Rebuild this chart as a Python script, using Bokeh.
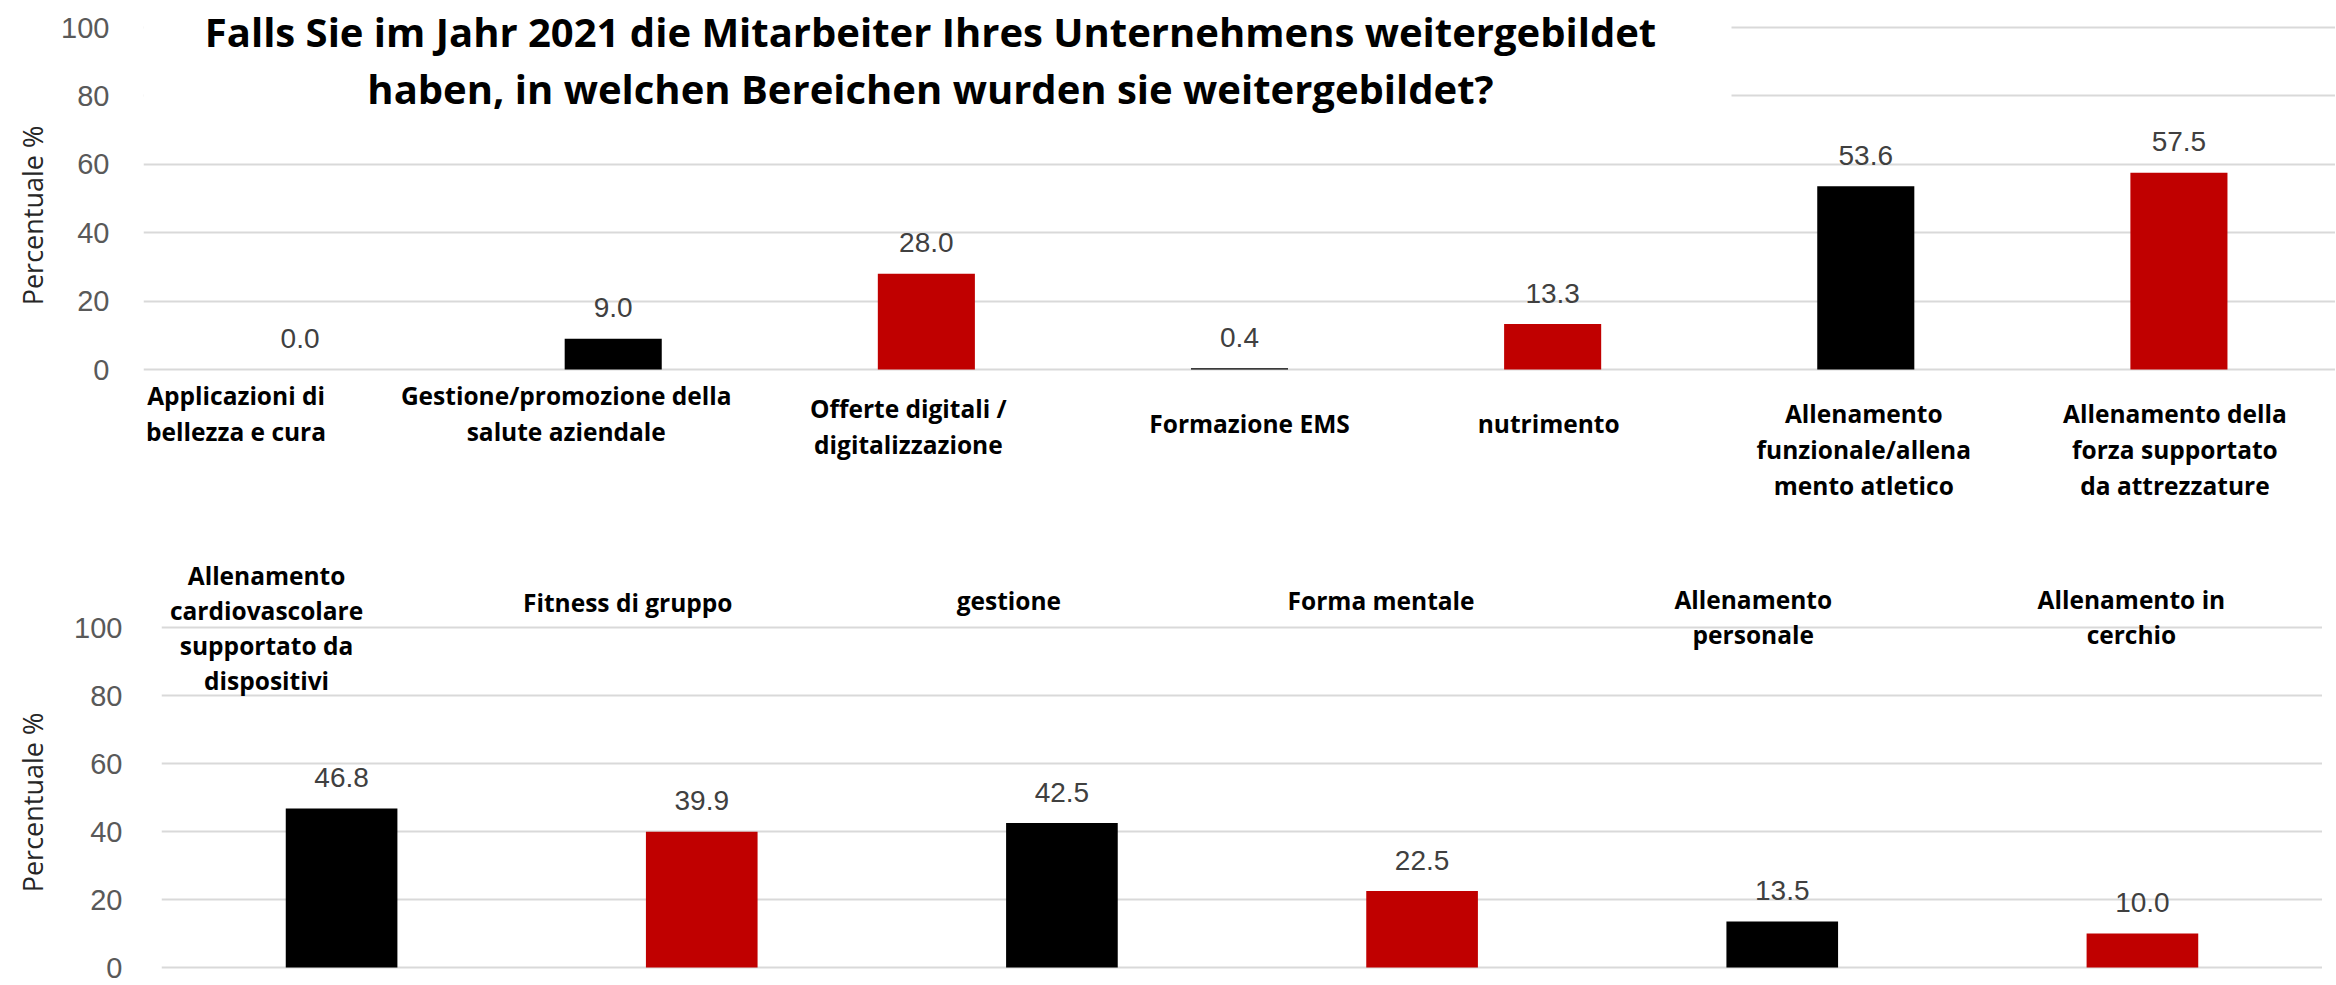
from bokeh.plotting import figure
from bokeh.models import FactorRange, Range1d, FixedTicker, ColumnDataSource, BoxAnnotation
from bokeh.layouts import column, row
from bokeh.core.properties import value
from bokeh.embed import file_html
from bokeh.resources import INLINE
import math

# ---------------- data ----------------
title_lines = [
    "Falls Sie im Jahr 2021 die Mitarbeiter Ihres Unternehmens weitergebildet",
    "haben, in welchen Bereichen wurden sie weitergebildet?",
]
y_axis_label = "Percentuale %"
y_ticks = [0, 20, 40, 60, 80, 100]

top_categories = [
    "Applicazioni di bellezza e cura",
    "Gestione/promozione della salute aziendale",
    "Offerte digitali / digitalizzazione",
    "Formazione EMS",
    "nutrimento",
    "Allenamento funzionale/allenamento atletico",
    "Allenamento della forza supportato da attrezzature",
]
top_label_lines = [
    ["Applicazioni di", "bellezza e cura"],
    ["Gestione/promozione della", "salute aziendale"],
    ["Offerte digitali /", "digitalizzazione"],
    ["Formazione EMS"],
    ["nutrimento"],
    ["Allenamento", "funzionale/allena", "mento atletico"],
    ["Allenamento della", "forza supportato", "da attrezzature"],
]
top_values = [0.0, 9.0, 28.0, 0.4, 13.3, 53.6, 57.5]

bottom_categories = [
    "Allenamento cardiovascolare supportato da dispositivi",
    "Fitness di gruppo",
    "gestione",
    "Forma mentale",
    "Allenamento personale",
    "Allenamento in cerchio",
]
bottom_label_lines = [
    ["Allenamento", "cardiovascolare", "supportato da", "dispositivi"],
    ["Fitness di gruppo"],
    ["gestione"],
    ["Forma mentale"],
    ["Allenamento", "personale"],
    ["Allenamento in", "cerchio"],
]
bottom_values = [46.8, 39.9, 42.5, 22.5, 13.5, 10.0]

# ---------------- style / layout ----------------
BLACK = "#000000"
RED = "#C00000"
top_colors = [RED, BLACK, RED, BLACK, RED, BLACK, RED]
bottom_colors = [BLACK, RED, BLACK, RED, BLACK, RED]
GRID = "#D9D9D9"
TICK_COLOR = "#595959"
VALUE_COLOR = "#404040"
LABEL_FONT = "Open Sans"
NUM_FONT = "Liberation Sans"
ORIGIN = 0           # page position of the layout's top-left corner
YLAB_W = 56          # width of the strip holding the rotated y-axis title


def ylabel_strip(fig_top, fig_bottom, center_px, baseline_px=32):
    s = figure(x_range=Range1d(ORIGIN, ORIGIN + YLAB_W),
               y_range=Range1d(fig_bottom, fig_top),
               width=YLAB_W, height=fig_bottom - fig_top,
               min_border=0, output_backend="svg", toolbar_location=None, tools="",
               x_axis_location=None, y_axis_location=None)
    s.outline_line_color = None
    s.grid.visible = False
    s.border_fill_color = "white"
    s.text(x=[baseline_px], y=[center_px], text=[y_axis_label], angle=math.pi / 2,
           text_align="center", text_baseline="alphabetic",
           text_font=value("Open Sans"), text_font_size="27px", text_color="#262626")
    return s


def make_chart(cats, label_lines, vals, colors, fig_top, fig_bottom, fig_right, frame_left,
               y0_px, y100_px, label_dx, label_base, line_gap, tick_standoff,
               bar_width=0.31):
    scale = (y0_px - y100_px) / 100.0
    y_start = (y0_px - fig_bottom) / scale
    y_end = (y0_px - fig_top) / scale
    n = len(cats)
    spacing = (fig_right - frame_left) / n
    fig_left = ORIGIN + YLAB_W

    def ydata(px):
        return (y0_px - px) / scale

    def xsyn(px):
        return (px - frame_left) / spacing

    p = figure(
        x_range=FactorRange(*cats),
        y_range=Range1d(y_start, y_end),
        width=fig_right - fig_left,
        height=fig_bottom - fig_top,
        min_border_left=frame_left - fig_left,
        min_border_right=0, min_border_top=0, min_border_bottom=0,
        output_backend="svg", toolbar_location=None, tools="",
        x_axis_location=None,
    )
    p.outline_line_color = None
    p.background_fill_color = "white"
    p.border_fill_color = "white"
    p.xgrid.visible = False
    p.ygrid.ticker = FixedTicker(ticks=y_ticks)
    p.ygrid.grid_line_color = GRID
    p.ygrid.grid_line_width = 2

    ax = p.yaxis[0]
    ax.ticker = FixedTicker(ticks=y_ticks)
    ax.axis_line_color = None
    ax.major_tick_line_color = None
    ax.minor_tick_line_color = None
    ax.major_label_text_font = NUM_FONT
    ax.major_label_text_font_size = "29px"
    ax.major_label_text_color = TICK_COLOR
    ax.major_label_standoff = tick_standoff

    src = ColumnDataSource(dict(x=cats, top=vals, color=colors,
                                txt=["%.1f" % v for v in vals]))
    p.vbar(x="x", top="top", width=bar_width, fill_color="color", line_color=None,
           source=src)
    p.text(x="x", y="top", text="txt", source=src, y_offset=-31,
           text_align="center", text_baseline="alphabetic",
           text_font=value(NUM_FONT), text_font_size="28px", text_color=VALUE_COLOR)

    # category labels (multi-line, centred)
    lx, ly, lt, ldx = [], [], [], []
    for i, lines in enumerate(label_lines):
        for j, line in enumerate(lines):
            lx.append(cats[i])
            ldx.append(label_dx[i])
            ly.append(ydata(label_base[i] + j * line_gap))
            lt.append(line)
    lsrc = ColumnDataSource(dict(x=lx, y=ly, t=lt, dx=ldx))
    p.text(x="x", y="y", text="t", x_offset="dx", source=lsrc,
           text_align="center", text_baseline="alphabetic",
           text_font=value(LABEL_FONT), text_font_style="bold",
           text_font_size="24.5px", text_color="#000000")
    return p, xsyn, ydata, y_end


# top chart
T_TOP, T_BOT = 0, 530
top, tx, ty, tyend = make_chart(
    top_categories, top_label_lines, top_values, top_colors,
    fig_top=T_TOP, fig_bottom=T_BOT, fig_right=2335, frame_left=143,
    y0_px=369, y100_px=27,
    label_dx=[-64, -47, -18, 10, -4, -2, -4],
    label_base=[395, 395, 408, 423, 423, 413, 413],
    line_gap=36, tick_standoff=28)

# white box behind the title (hides upper gridlines there)
top.add_layout(BoxAnnotation(left=0, right=tx(1731), bottom=ty(130), top=tyend,
                             fill_color="white", fill_alpha=1.0, line_color=None,
                             level="underlay"))
tsrc = ColumnDataSource(dict(x=[tx(930), tx(930)], y=[ty(31), ty(88)], t=title_lines))
top.text(x="x", y="y", text="t", source=tsrc, text_align="center",
         text_baseline="alphabetic", text_font=value(LABEL_FONT),
         text_font_style="bold", text_font_size="40px", text_color="#000000")

# bottom chart
B_TOP, B_BOT = 530, 984
bottom, bx, by, byend = make_chart(
    bottom_categories, bottom_label_lines, bottom_values, bottom_colors,
    fig_top=B_TOP, fig_bottom=B_BOT, fig_right=2322, frame_left=161,
    y0_px=967, y100_px=627,
    label_dx=[-75, -74, -53, -41, -29, -11],
    label_base=[575, 602, 600, 600, 599, 599],
    line_gap=35, tick_standoff=33)

layout = column(
    row(ylabel_strip(T_TOP, T_BOT, 215), top, spacing=0),
    row(ylabel_strip(B_TOP, B_BOT, 802), bottom, spacing=0),
    spacing=0,
)
open("out.html", "w").write(file_html(layout, INLINE))
